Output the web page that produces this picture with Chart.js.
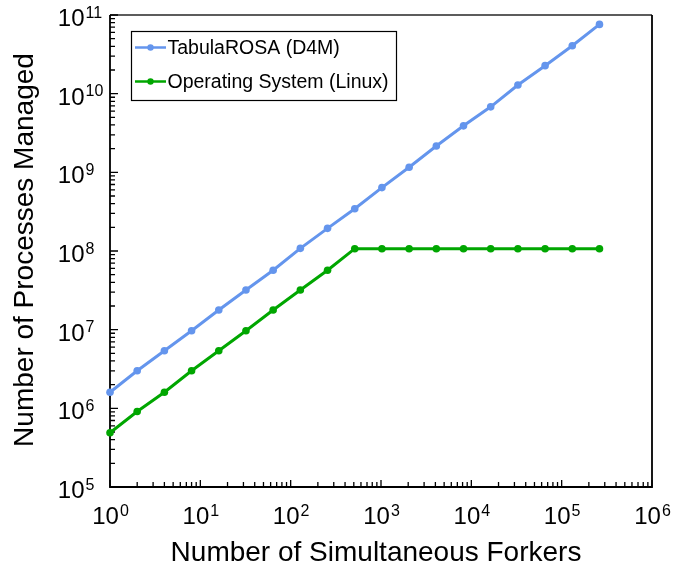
<!DOCTYPE html>
<html>
<head>
<meta charset="utf-8">
<script src="https://cdn.jsdelivr.net/npm/chart.js@4.4.1/dist/chart.umd.min.js"></script>
<style>
  html, body { margin: 0; padding: 0; background: #fff; }
  canvas { display: block; }
</style>
</head>
<body>
<canvas id="forkChart" width="689" height="572"></canvas>
<script>
// simultaneous forkers (powers of two)
const forkers = [1, 2, 4, 8, 16, 32, 64, 128, 256, 512, 1024, 2048, 4096, 8192, 16384, 32768, 65536, 131072, 262144];
const tabulaRosa = [1.6e6, 3.0e6, 5.4e6, 9.7e6, 1.78e7, 3.2e7, 5.7e7, 1.08e8, 1.94e8, 3.45e8, 6.4e8, 1.16e9, 2.16e9, 3.9e9, 6.8e9, 1.29e10, 2.27e10, 4.07e10, 7.6e10];
const linuxOS = [4.9e5, 9.1e5, 1.6e6, 3.0e6, 5.4e6, 9.7e6, 1.78e7, 3.2e7, 5.7e7, 1.07e8, 1.07e8, 1.07e8, 1.07e8, 1.07e8, 1.07e8, 1.07e8, 1.07e8, 1.07e8, 1.07e8];
const xExponents = [0, 1, 2, 3, 4, 5, 6];
const yExponents = [5, 6, 7, 8, 9, 10, 11];

const blue = 'rgb(100,149,237)';
const green = 'rgb(0,166,0)';
const fontFamily = '"Liberation Sans", Arial, sans-serif';

function toPoints(xs, ys) {
    return xs.map((x, i) => ({ x: x, y: ys[i] }));
}

// minor tick values on a log axis between 10^lo and 10^hi
function logTicks(lo, hi) {
    const out = [];
    for (let e = lo; e < hi; e++) {
        for (let m = 1; m < 10; m++) out.push({ v: m * Math.pow(10, e), major: m === 1 });
    }
    out.push({ v: Math.pow(10, hi), major: true });
    return out;
}

function drawPower(ctx, exp, x, y, mode) {
    ctx.font = '24px ' + fontFamily;
    const baseW = ctx.measureText('10').width;
    ctx.font = '16px ' + fontFamily;
    const expW = ctx.measureText(String(exp)).width;
    let left;
    if (mode === 'y') {
        left = x - baseW;
    } else {
        left = x - (baseW + expW) / 2;
    }
    ctx.textAlign = 'left';
    ctx.textBaseline = 'alphabetic';
    ctx.font = '24px ' + fontFamily;
    ctx.fillText('10', left, y);
    ctx.font = '16px ' + fontFamily;
    ctx.fillText(String(exp), left + baseW + 1, y - 8.5);
}

const axesPlugin = {
    id: 'axesPlugin',
    beforeDatasetsDraw(chart) {
        const { ctx, chartArea: a, scales } = chart;
        const xs = scales.x, ys = scales.y;
        ctx.save();
        ctx.strokeStyle = '#000';
        ctx.fillStyle = '#000';

        // frame
        ctx.lineWidth = 1.5;
        ctx.strokeStyle = '#262626';
        ctx.beginPath();
        ctx.moveTo(a.left, a.top);
        ctx.lineTo(a.right, a.top);
        ctx.stroke();
        ctx.strokeStyle = '#000';
        ctx.lineWidth = 1.8;
        ctx.beginPath();
        ctx.moveTo(a.left, a.top);
        ctx.lineTo(a.left, a.bottom);
        ctx.lineTo(a.right, a.bottom);
        ctx.lineTo(a.right, a.top);
        ctx.stroke();

        // inward ticks, left and bottom only
        ctx.lineWidth = 1.3;
        ctx.beginPath();
        logTicks(5, 11).forEach(t => {
            const py = ys.getPixelForValue(t.v);
            ctx.moveTo(a.left, py);
            ctx.lineTo(a.left + (t.major ? 8 : 5), py);
        });
        logTicks(0, 6).forEach(t => {
            const px = xs.getPixelForValue(t.v);
            ctx.moveTo(px, a.bottom);
            ctx.lineTo(px, a.bottom - (t.major ? 7 : 5));
        });
        ctx.stroke();

        // tick labels
        yExponents.forEach(e => {
            const py = ys.getPixelForValue(Math.pow(10, e));
            drawPower(ctx, e, 84.5, py + 11, 'y');
        });
        xExponents.forEach(e => {
            const px = xs.getPixelForValue(Math.pow(10, e));
            drawPower(ctx, e, px, 524, 'x');
        });

        // axis titles
        ctx.font = '28px ' + fontFamily;
        ctx.textAlign = 'center';
        ctx.textBaseline = 'alphabetic';
        ctx.fillText('Number of Simultaneous Forkers', 376, 561);
        ctx.save();
        ctx.translate(33, 250);
        ctx.rotate(-Math.PI / 2);
        ctx.fillText('Number of Processes Managed', 0, 0);
        ctx.restore();
        ctx.restore();
    },
    afterDraw(chart) {
        const ctx = chart.ctx;
        ctx.save();
        ctx.fillStyle = '#fff';
        ctx.fillRect(131.5, 31.5, 265, 69);
        ctx.strokeStyle = '#000';
        ctx.lineWidth = 1.2;
        ctx.strokeRect(131.5, 31.5, 265, 69);
        const rows = [47.5, 81.5];
        chart.data.datasets.forEach((ds, i) => {
            const y = rows[i];
            ctx.strokeStyle = ds.borderColor;
            ctx.lineWidth = 2.5;
            ctx.beginPath();
            ctx.moveTo(135, y);
            ctx.lineTo(166, y);
            ctx.stroke();
            ctx.fillStyle = ds.borderColor;
            ctx.beginPath();
            ctx.arc(150.5, y, 3.2, 0, Math.PI * 2);
            ctx.fill();
            ctx.fillStyle = '#000';
            ctx.font = '19.5px ' + fontFamily;
            ctx.textAlign = 'left';
            ctx.textBaseline = 'middle';
            ctx.fillText(ds.label, 167.5, y + 1);
        });
        ctx.restore();
    }
};

new Chart(document.getElementById('forkChart'), {
    type: 'line',
    data: {
        datasets: [{
            label: 'TabulaROSA (D4M)',
            data: toPoints(forkers, tabulaRosa),
            borderColor: blue,
            backgroundColor: blue,
            borderWidth: 3,
            pointRadius: 3.8,
            pointBorderWidth: 0,
            tension: 0,
            clip: false
        }, {
            label: 'Operating System (Linux)',
            data: toPoints(forkers, linuxOS),
            borderColor: green,
            backgroundColor: green,
            borderWidth: 3,
            pointRadius: 3.8,
            pointBorderWidth: 0,
            tension: 0,
            clip: false
        }]
    },
    options: {
        responsive: false,
        animation: false,
        layout: { padding: { left: 110, right: 37, top: 15, bottom: 85 } },
        plugins: { legend: { display: false }, tooltip: { enabled: false } },
        scales: {
            x: { type: 'logarithmic', min: 1, max: 1e6, display: false },
            y: { type: 'logarithmic', min: 1e5, max: 1e11, display: false }
        }
    },
    plugins: [axesPlugin]
});
</script>
</body>
</html>
